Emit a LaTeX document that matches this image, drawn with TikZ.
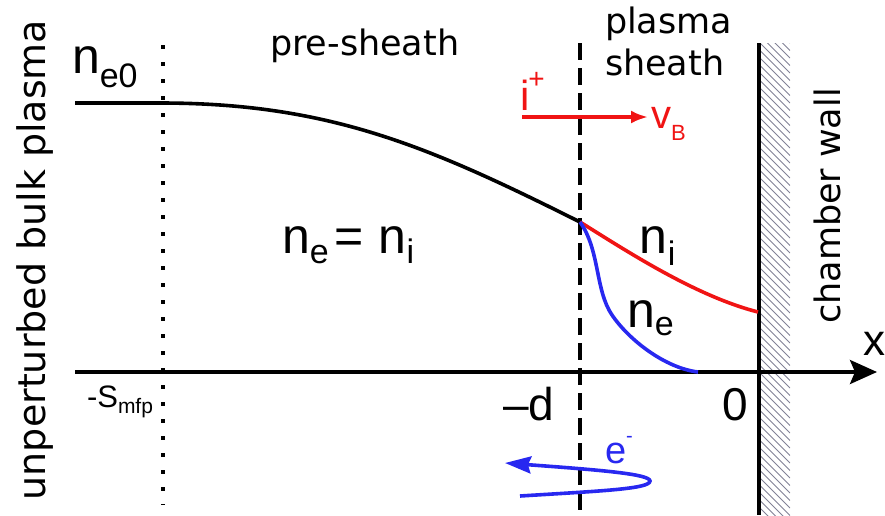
\documentclass[tikz,border=0pt]{standalone}
\usepackage{fontspec}
\setmainfont{Liberation Sans}
\newfontfamily\dejavu{DejaVu Sans}
\usetikzlibrary{arrows.meta}
\definecolor{myred}{RGB}{240,20,20}
\definecolor{myblue}{RGB}{40,40,240}
\definecolor{hatchc}{RGB}{130,130,150}
\newcommand\bigf{\fontsize{50}{50}\selectfont}
\newcommand\midf{\fontsize{46}{46}\selectfont}
\newcommand\subf{\fontsize{34}{34}\selectfont}
\newcommand\wordf{\dejavu\fontsize{35}{35}\selectfont}
\begin{document}
\begin{tikzpicture}[x=1pt,y=-1pt,
  lbl/.style={inner sep=0pt,outer sep=0pt,anchor=base west},
  wordlbl/.style={inner sep=0pt,outer sep=0pt,font=\wordf},
  heavy/.style={line width=3.6pt},
  hatchline/.style={line width=0.8pt,draw=hatchc}]
\useasboundingbox (0,0) rectangle (885,515);
% coordinates
\coordinate (flat0) at (75,103);
\coordinate (flat1) at (160,103);
\coordinate (se) at (580,222);
\coordinate (wi) at (758,312);
\coordinate (eend) at (698,372);
\coordinate (ax0) at (75,372);
\coordinate (ax1) at (877,372);
\coordinate (dot0) at (163,45);
\coordinate (dot1) at (163,505);
\coordinate (dash0) at (580,43);
\coordinate (dash1) at (580,515);
\coordinate (wall0) at (759,43);
\coordinate (wall1) at (759,515);
\coordinate (iv0) at (522,117);
\coordinate (iv1) at (648,117);
\coordinate (el0) at (520,496);
\coordinate (elt) at (650,481);
\coordinate (el1) at (505,463);
% hatch
\begin{scope}
  \clip (761,43) rectangle (790,515);
  \foreach \k in {0,...,68} {
    \draw[hatchline] (760,13+\k*7.5) -- (790,43+\k*7.5);
  }
\end{scope}
% lines
\draw[line width=3.6pt,dash pattern=on 3.6pt off 13.4pt] (dot0) -- (dot1);
\draw[line width=3.6pt,dash pattern=on 17pt off 8pt] (dash0) -- (dash1);
\draw[line width=3.8pt] (wall0) -- (wall1);
\draw[heavy,-{Stealth[length=27pt,width=24pt,inset=5pt]}] (ax0) -- (ax1);
% density curves
\draw[heavy] (flat0) -- (flat1) .. controls (330,103) and (430,147) .. (se);
\draw[heavy,myred] (se) .. controls (625,250) and (695,296) .. (wi);
\draw[heavy,myblue] (se) .. controls (600,250) and (595,290) .. (612,315)
   .. controls (629,340) and (665,368) .. (eend);
% particle arrows
\draw[heavy,myred,-{Latex[length=17pt,width=13pt]}] (iv0) -- (iv1);
\draw[heavy,myblue,-{Stealth[length=26pt,width=17pt,inset=3pt]}] (el0)
   .. controls (600,491) and (650,489) .. (elt)
   .. controls (650,474) and (600,470) .. (el1);
% labels
\node[lbl] (ne0) at (72,73) {\bigf n\raisebox{-14pt}{\subf e0}};
\node[lbl] (nn) at (282,253) {\bigf n\raisebox{-10pt}{\subf e}\hspace{6pt}=\hspace{15pt}n\raisebox{-10pt}{\subf i}};
\node[lbl] (ni) at (639,253) {\bigf n\raisebox{-12pt}{\subf\hspace{1pt}i}};
\node[lbl] (nel) at (627,327) {\bigf n\raisebox{-8pt}{\subf e}};
\node[lbl] (md) at (503,420) {\midf \textendash d};
\node[lbl] (zero) at (722,420) {\midf 0};
\node[lbl] (xl) at (863,355) {\fontsize{44}{44}\selectfont x};
\node[lbl] (smfp) at (87,407) {\fontsize{31}{31}\selectfont -S\raisebox{-6pt}{\fontsize{21}{21}\selectfont mfp}};
\node[lbl,text=myred] (ip) at (520,110) {\fontsize{42}{42}\selectfont i\hspace{-1pt}\raisebox{22pt}{\fontsize{28}{28}\selectfont +}};
\node[lbl,text=myred] (vb) at (651,128) {\fontsize{40}{40}\selectfont v\raisebox{-12pt}{\fontsize{22}{22}\selectfont B}};
\node[lbl,text=myblue] (em) at (605,463) {\fontsize{38}{38}\selectfont e\raisebox{21pt}{\fontsize{20}{20}\selectfont -}};
\node[wordlbl,anchor=base west] (pre) at (270,55) {pre-sheath};
\node[wordlbl,anchor=base west] (ps1) at (605,33) {plasma};
\node[wordlbl,anchor=base west] (ps2) at (605,75) {sheath};
\node[wordlbl,rotate=90,anchor=base] (cw) at (840,206) {chamber wall};
\node[wordlbl,rotate=90,anchor=base,font=\dejavu\fontsize{38}{38}\selectfont] (ubp) at (45,260) {unperturbed bulk plasma};
\end{tikzpicture}
\end{document}
